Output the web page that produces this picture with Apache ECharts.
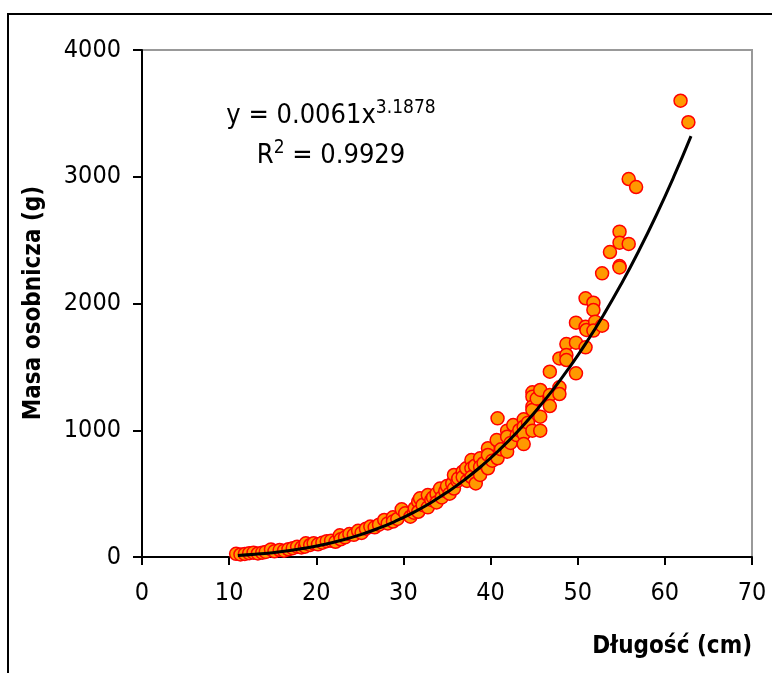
<!DOCTYPE html>
<html>
<head>
<meta charset="utf-8">
<script src="https://cdn.jsdelivr.net/npm/echarts@6/dist/echarts.min.js"></script>
<style>
  html, body { margin: 0; padding: 0; background: #fff; }
  #chart { width: 772px; height: 673px; }
</style>
</head>
<body>
<div id="chart"></div>
<script>
// Fish length (cm) and body mass (g), one entry per measured fish
const lengthCm = [
  10.8, 11.3, 11.8, 12.3, 12.8, 13.3, 13.8, 14.2, 14.8, 15.2,
  15.8, 16.3, 16.8, 17.3, 17.8, 18.3, 18.7, 18.8, 19.3, 19.7,
  20.2, 20.7, 21.2, 21.7, 22.2, 22.7, 22.8, 23.3, 23.8, 24.3,
  24.8, 25.2, 25.7, 26.2, 26.7, 27.2, 27.8, 28.2, 28.8, 28.8,
  29.3, 29.8, 30.2, 30.8, 31.2, 31.3, 31.7, 31.7, 31.9, 32.2,
  32.8, 32.8, 33.2, 33.4, 33.8, 33.8, 34.2, 34.4, 34.8, 35.0,
  35.3, 35.6, 35.8, 35.8, 36.2, 36.3, 36.8, 36.8, 37.2, 37.3,
  37.8, 37.8, 37.8, 38.2, 38.3, 38.8, 38.8, 38.8, 39.2, 39.7,
  39.7, 39.7, 40.2, 40.7, 40.8, 40.8, 41.2, 41.9, 41.9, 41.9,
  42.3, 42.6, 43.0, 43.3, 43.8, 43.8, 43.8, 43.8, 44.3, 44.8,
  44.8, 44.8, 44.8, 44.8, 45.3, 45.7, 45.7, 45.7, 46.8, 46.8,
  46.8, 47.9, 47.9, 47.9, 48.7, 48.7, 48.7, 49.8, 49.8, 49.8,
  50.9, 50.9, 51.0, 50.9, 51.8, 51.8, 52.0, 51.8, 52.8, 52.8,
  53.7, 54.8, 54.8, 54.8, 54.8, 55.85, 55.85, 56.7, 61.8, 62.7
];
const massG = [
  25, 20, 24, 30, 34, 28, 34, 40, 60, 45,
  55, 50, 61, 70, 81, 75, 81, 108, 95, 108,
  100, 113, 125, 129, 120, 171, 140, 155, 181, 175,
  207, 190, 223, 240, 234, 255, 292, 265, 313, 280,
  300, 376, 345, 318, 350, 385, 436, 357, 463, 410,
  489, 392, 450, 470, 500, 430, 540, 470, 520, 560,
  500, 580, 647, 540, 600, 620, 673, 631, 700, 600,
  765, 700, 631, 720, 580, 779, 712, 647, 740, 858,
  805, 700, 760, 923, 1094, 779, 850, 997, 949, 831,
  900, 1041, 962, 1000, 1086, 1028, 970, 891, 1060, 1299,
  1265, 1186, 1160, 997, 1250, 1318, 1107, 997, 1462, 1278,
  1191, 1567, 1339, 1286, 1680, 1594, 1554, 1849, 1691, 1449,
  2041, 1817, 1791, 1654, 2006, 1949, 1857, 1786, 2238, 1825,
  2406, 2567, 2480, 2295, 2285, 2470, 2982, 2919, 3600, 3430
];

// Power trendline: y = a * x^b, R^2 as reported
const trendA = 0.0061;
const trendB = 3.1878;
const trendR2 = '0.9929';
const trendLengths = [11, 13, 15, 17, 19, 21, 23, 25, 27, 29, 31, 33, 35, 37, 39, 41, 43, 45, 47, 49, 51, 53, 55, 57, 59, 61, 63];

const xTicks = { min: 0, max: 70, step: 10 };
const yTicks = { min: 0, max: 4000, step: 1000 };

const FONT = '"DejaVu Sans Condensed", "DejaVu Sans", sans-serif';

const points = lengthCm.map((x, i) => [x, massG[i]]);
const trend = trendLengths.map(x => [x, trendA * Math.pow(x, trendB)]);

const chart = echarts.init(document.getElementById('chart'));
chart.setOption({
  animation: false,
  backgroundColor: '#ffffff',
  grid: {
    left: 142, right: 20, top: 50, bottom: 116,
    show: true, borderColor: '#999999', borderWidth: 2, backgroundColor: 'transparent'
  },
  xAxis: {
    type: 'value',
    min: xTicks.min, max: xTicks.max, interval: xTicks.step,
    axisLine: { show: true, onZero: false, lineStyle: { color: '#000', width: 2 } },
    axisTick: { show: true, length: 8, lineStyle: { color: '#000', width: 2 } },
    axisLabel: { color: '#000', fontFamily: FONT, fontSize: 25, margin: 24, formatter: v => String(v) },
    splitLine: { show: false }
  },
  yAxis: {
    type: 'value',
    min: yTicks.min, max: yTicks.max, interval: yTicks.step,
    axisLine: { show: true, onZero: false, lineStyle: { color: '#000', width: 2 } },
    axisTick: { show: true, length: 9, lineStyle: { color: '#000', width: 2 } },
    axisLabel: { color: '#000', fontFamily: FONT, fontSize: 25, margin: 21, formatter: v => String(v) },
    splitLine: { show: false }
  },
  series: [
    {
      type: 'scatter',
      data: points,
      symbol: 'circle',
      symbolSize: 13,
      itemStyle: { color: '#FF9900', borderColor: '#FF0000', borderWidth: 1.5, opacity: 1 },
      z: 2
    },
    {
      type: 'line',
      data: trend,
      smooth: true,
      showSymbol: false,
      lineStyle: { color: '#000', width: 3 },
      z: 3
    }
  ],
  graphic: [
    {
      type: 'rect',
      shape: { x: 8, y: 14, width: 820, height: 720 },
      style: { fill: 'none', stroke: '#000', lineWidth: 2 },
      silent: true
    },
    {
      type: 'text',
      x: 34, y: 303, rotation: Math.PI / 2,
      style: {
        text: 'Masa osobnicza (g)',
        fontFamily: FONT, fontSize: 24, fontWeight: 'bold', fill: '#000',
        textAlign: 'center', textVerticalAlign: 'middle'
      }
    },
    {
      type: 'text',
      x: 752, y: 647,
      style: {
        text: 'Długość (cm)',
        fontFamily: FONT, fontSize: 24, fontWeight: 'bold', fill: '#000',
        textAlign: 'right', textVerticalAlign: 'middle'
      }
    },
    {
      type: 'text',
      x: 331, y: 116,
      style: {
        text: '{m|y = ' + trendA + 'x}{s|' + trendB + '}',
        textAlign: 'center', textVerticalAlign: 'middle',
        rich: {
          m: { fontFamily: FONT, fontSize: 27, color: '#000' },
          s: { fontFamily: FONT, fontSize: 19, color: '#000', verticalAlign: 'top', padding: [0, 0, 16, 0] }
        }
      }
    },
    {
      type: 'text',
      x: 331, y: 156,
      style: {
        text: '{m|R}{s|2}{m| = ' + trendR2 + '}',
        textAlign: 'center', textVerticalAlign: 'middle',
        rich: {
          m: { fontFamily: FONT, fontSize: 27, color: '#000' },
          s: { fontFamily: FONT, fontSize: 19, color: '#000', verticalAlign: 'top', padding: [0, 0, 16, 0] }
        }
      }
    }
  ]
});
</script>
</body>
</html>
